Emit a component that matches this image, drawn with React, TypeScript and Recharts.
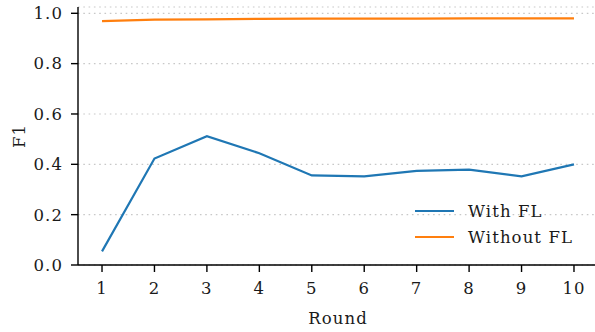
import React from 'react';
import { LineChart, Line, XAxis, YAxis, CartesianGrid, Label } from 'recharts';

const rounds = [1, 2, 3, 4, 5, 6, 7, 8, 9, 10];
const withFL = [0.054, 0.423, 0.512, 0.444, 0.356, 0.352, 0.374, 0.379, 0.352, 0.4];
const withoutFL = [0.969, 0.975, 0.976, 0.978, 0.979, 0.979, 0.979, 0.98, 0.98, 0.98];
const yTicks = [0, 0.2, 0.4, 0.6, 0.8, 1.0];
const seriesNames = ['With FL', 'Without FL'];
const colors = ['#1f77b4', '#ff7f0e'];

const data = rounds.map((r, i) => ({ round: r, withFL: withFL[i], withoutFL: withoutFL[i] }));

const FONT = 'DejaVu Serif';
const textColor = '#1a1a1a';
const FS = 16.5;
const LS = 1.1;
const tickStyle = { fontFamily: FONT, fontSize: FS, fill: textColor, letterSpacing: LS };

const LegendBox = () => (
  <div style={{ position: 'absolute', left: 415, top: 198, fontFamily: FONT, fontSize: FS, color: textColor, letterSpacing: LS }}>
    {seriesNames.map((n, i) => (
      <div key={n} style={{ display: 'flex', alignItems: 'center', height: 26 }}>
        <div style={{ width: 39, height: 2.2, background: colors[i], marginRight: 14 }} />
        <span>{n}</span>
      </div>
    ))}
  </div>
);

export default function App() {
  return (
    <div style={{ position: 'absolute', left: 0, top: 0, width: 595, height: 332, background: '#fff' }}>
      <LineChart width={595} height={332} data={data} margin={{ top: 7, right: -3, bottom: 0, left: 0 }}>
        <CartesianGrid vertical={false} stroke="#c8c8c8" strokeDasharray="1.6 3.7" strokeWidth={1.2} />
        <XAxis
          dataKey="round"
          type="number"
          domain={[0.542, 10.458]}
          ticks={rounds}
          allowDataOverflow
          height={67}
          tickSize={7}
          tickMargin={10}
          tick={tickStyle}
          stroke="#000"
          strokeWidth={1.4}
          tickLine={{ stroke: '#000', strokeWidth: 1.4 }}
        >
          <Label value="Round" position="insideBottom" offset={8} style={{ fontFamily: FONT, fontSize: FS, fill: textColor, letterSpacing: LS }} />
        </XAxis>
        <XAxis
          xAxisId="top"
          orientation="top"
          dataKey="round"
          type="number"
          domain={[0.542, 10.458]}
          height={0}
          tick={false}
          tickLine={false}
          stroke="#000"
          strokeWidth={1.4}
        />
        <YAxis
          type="number"
          domain={[0, 1.025]}
          ticks={yTicks}
          allowDataOverflow
          width={78}
          tickSize={7}
          tickMargin={8}
          tick={tickStyle}
          tickFormatter={(v: number) => v.toFixed(1)}
          stroke="#000"
          strokeWidth={1.4}
          tickLine={{ stroke: '#000', strokeWidth: 1.4 }}
        >
          <Label value="F1" angle={-90} position="insideLeft" offset={19} style={{ fontFamily: FONT, fontSize: FS, fill: textColor, letterSpacing: LS, textAnchor: 'middle' }} />
        </YAxis>
        <Line dataKey="withFL" name={seriesNames[0]} stroke={colors[0]} strokeWidth={2.2} dot={false} isAnimationActive={false} />
        <Line dataKey="withoutFL" name={seriesNames[1]} stroke={colors[1]} strokeWidth={2.2} dot={false} isAnimationActive={false} />
      </LineChart>
      <LegendBox />
    </div>
  );
}
